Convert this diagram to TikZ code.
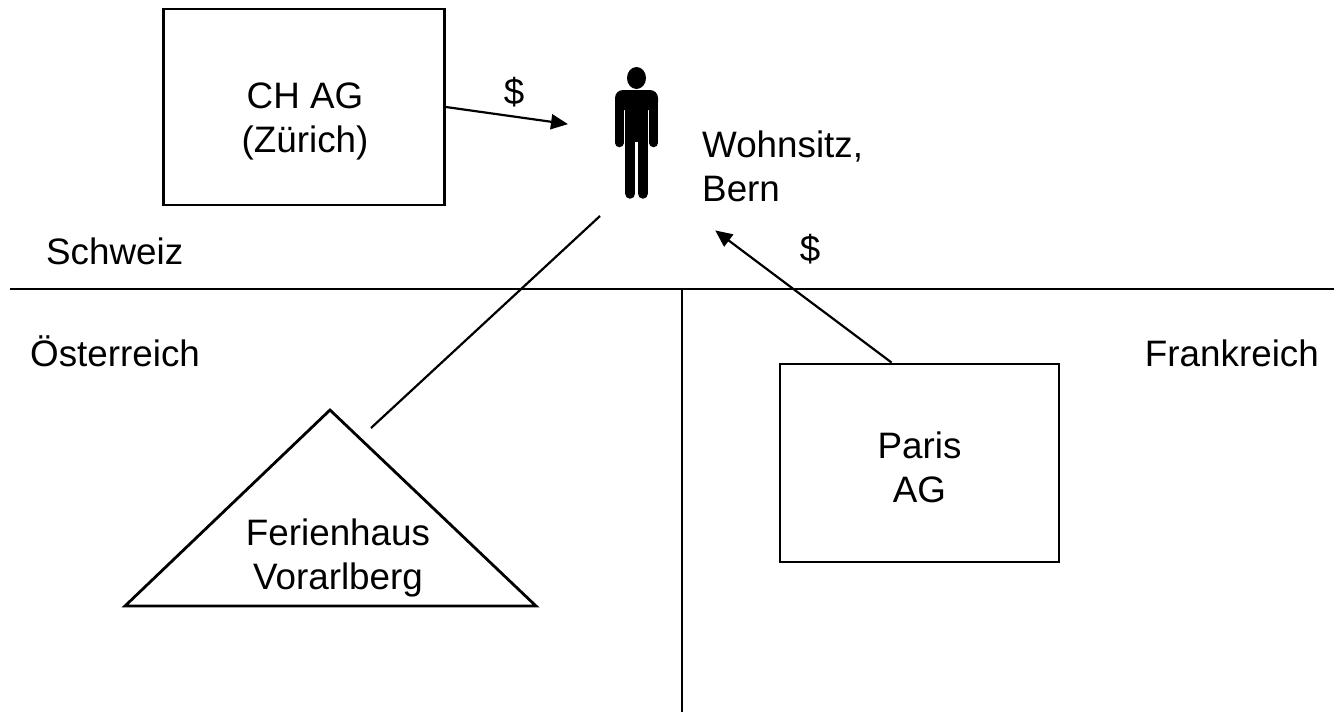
\documentclass[tikz,border=0pt]{standalone}
\usepackage{xcolor}
\usepackage{fontspec}
\setmainfont{Liberation Sans}
\usetikzlibrary{arrows.meta,calc,shapes.geometric}
\tikzset{
  border/.style={line width=2.8pt, draw=black},
  conn/.style={line width=2.2pt, draw=black},
  flow/.style={conn, -{Triangle[length=17pt,width=15pt]}, shorten >=-1pt},
  box/.style={border, inner sep=0pt},
  lab/.style={inner sep=0pt, align=left, font=\fontsize{36.8}{44}\selectfont},
  limb/.style={line cap=round, draw=black}
}

\begin{document}
\begin{tikzpicture}[x=1pt,y=-1pt]
  \useasboundingbox (0,0) rectangle (1334,712);

  % borders between the countries
  \coordinate (nw) at (10,289);
  \coordinate (ne) at (1334,289);
  \coordinate (st) at (682,289);
  \coordinate (sb) at (682,712);
  \draw[border] (nw) -- (ne);
  \draw[border] (st) -- (sb);

  \node[box,minimum width=281pt,minimum height=196pt] (chag) at (304,107) {};
  \node[box,minimum width=279pt,minimum height=198pt] (paris) at (919.5,463) {};
  \node[lab,align=center] (chagtext) at (305,121) {CH AG\\(Zürich)};
  \node[lab,align=center] (paristext) at (919.5,467) {Paris\\AG};

  % house as a triangle
  \coordinate (roof) at (330,410);
  \coordinate (left) at (125,606);
  \coordinate (right) at (536,606);
  \draw[border,line join=miter] (roof) -- (left) -- (right) -- cycle;
  \node[lab,align=center] (haus) at (338,558) {Ferienhaus\\Vorarlberg};

  % person
  \fill (636.5,78) ellipse [x radius=9.5, y radius=11];
  \fill[rounded corners=8pt] (615,110) -- (615,90) -- (658,90) -- (658,110) -- cycle;
  \fill (625,100) rectangle (648,142);
  \draw[limb,line width=8.5pt] (619.3,100) -- (619.3,143);
  \draw[limb,line width=8.5pt] (653.7,100) -- (653.7,143);
  \draw[limb,line width=10.5pt] (630.2,130) -- (630.2,193.5);
  \draw[limb,line width=10.5pt] (642.8,130) -- (642.8,193.5);

  \coordinate (in1) at (567,124);
  \coordinate (in2) at (716,231);
  \coordinate (out) at (600,216);
  \coordinate (parisout) at ($(paris.north west)+(113,0)$);
  \coordinate (hausout) at (371,428);

  \draw[flow] (chag.east) -- (in1);
  \draw[flow] (parisout) -- (in2);
  \draw[conn] (out) -- (hausout);

  \node[lab] (d1) at (514,92) {\$};
  \node[lab] (d2) at (810,249) {\$};
  \node[lab,anchor=west] (bern) at (702,166) {Wohnsitz,\\Bern};
  \node[lab,anchor=base west] (ch) at (46,264) {Schweiz};
  \node[lab,anchor=base west] (at) at (30,366) {Österreich};
  \node[lab,anchor=base east] (fr) at (1319,366) {Frankreich};
\end{tikzpicture}
\end{document}
